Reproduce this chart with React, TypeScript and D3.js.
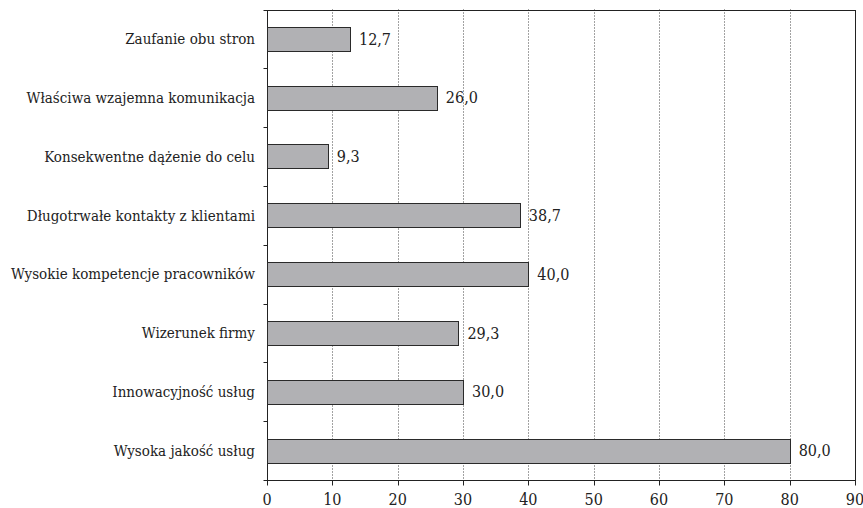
import React from "react";
import * as d3 from "d3";

const categories = [
  "Zaufanie obu stron",
  "Właściwa wzajemna komunikacja",
  "Konsekwentne dążenie do celu",
  "Długotrwałe kontakty z klientami",
  "Wysokie kompetencje pracowników",
  "Wizerunek firmy",
  "Innowacyjność usług",
  "Wysoka jakość usług",
];
const values = [12.7, 26.0, 9.3, 38.7, 40.0, 29.3, 30.0, 80.0];
const xTicks = [0, 10, 20, 30, 40, 50, 60, 70, 80, 90];

const W = 863;
const H = 508;
const M = { left: 267, right: 8, top: 9.5, bottom: 28 };
const FONT = '"DejaVu Serif Condensed", "DejaVu Serif"';

export default function App() {
  const x = d3.scaleLinear().domain([0, 90]).range([M.left, W - M.right]);
  const y = d3
    .scaleBand<string>()
    .domain(categories)
    .range([M.top, H - M.bottom])
    .paddingInner(0.59)
    .paddingOuter(0.295);
  const step = y.step();
  const px = (v: number) => Math.round(v) + 0.5;
  const y0 = M.top;
  const y1 = H - M.bottom;
  const bounds = d3.range(categories.length + 1).map((i) => y0 + i * step);
  const fmt = (v: number) => v.toFixed(1).replace(".", ",");
  const ts = {
    fontFamily: FONT,
    fontSize: "15px",
    fontStretch: "condensed",
  } as React.CSSProperties;
  const ns = { ...ts, fontSize: "16px" } as React.CSSProperties;

  return (
    <svg
      width={W}
      height={H}
      style={{ position: "absolute", left: 0, top: 0, background: "#fff" }}
    >
      {xTicks.slice(1, -1).map((t) => (
        <line
          key={"g" + t}
          x1={px(x(t))}
          x2={px(x(t))}
          y1={y0}
          y2={y1}
          stroke="#444"
          strokeWidth={1}
          strokeDasharray="1,2"
        />
      ))}
      <rect
        x={px(x(0))}
        y={px(y0)}
        width={px(x(90)) - px(x(0))}
        height={px(y1) - px(y0)}
        fill="none"
        stroke="#222"
        strokeWidth={1}
      />
      {bounds.map((b, i) => (
        <line
          key={"yt" + i}
          x1={px(x(0)) - 4}
          x2={px(x(0))}
          y1={px(b)}
          y2={px(b)}
          stroke="#222"
        />
      ))}
      {xTicks.map((t) => (
        <g key={"xt" + t}>
          <line
            x1={px(x(t))}
            x2={px(x(t))}
            y1={px(y1)}
            y2={px(y1) + 5}
            stroke="#222"
          />
          <text
            x={x(t)}
            y={y1 + 25}
            textAnchor="middle"
            style={ns}
            fill="#222"
          >
            {t}
          </text>
        </g>
      ))}
      {categories.map((c, i) => {
        const by = y(c)!;
        const bh = y.bandwidth();
        return (
          <g key={c}>
            <rect
              x={px(x(0))}
              y={px(by)}
              width={px(x(values[i])) - px(x(0))}
              height={Math.round(bh)}
              fill="#b1b1b4"
              stroke="#2a2a2a"
              strokeWidth={1}
            />
            <text
              x={x(values[i]) + 9}
              y={by + bh / 2}
              dy="0.35em"
              style={ns}
              fill="#222"
            >
              {fmt(values[i])}
            </text>
            <text
              x={x(0) - 12}
              y={by + bh / 2}
              dy="0.35em"
              textAnchor="end"
              style={ts}
              fill="#222"
            >
              {c}
            </text>
          </g>
        );
      })}
    </svg>
  );
}
